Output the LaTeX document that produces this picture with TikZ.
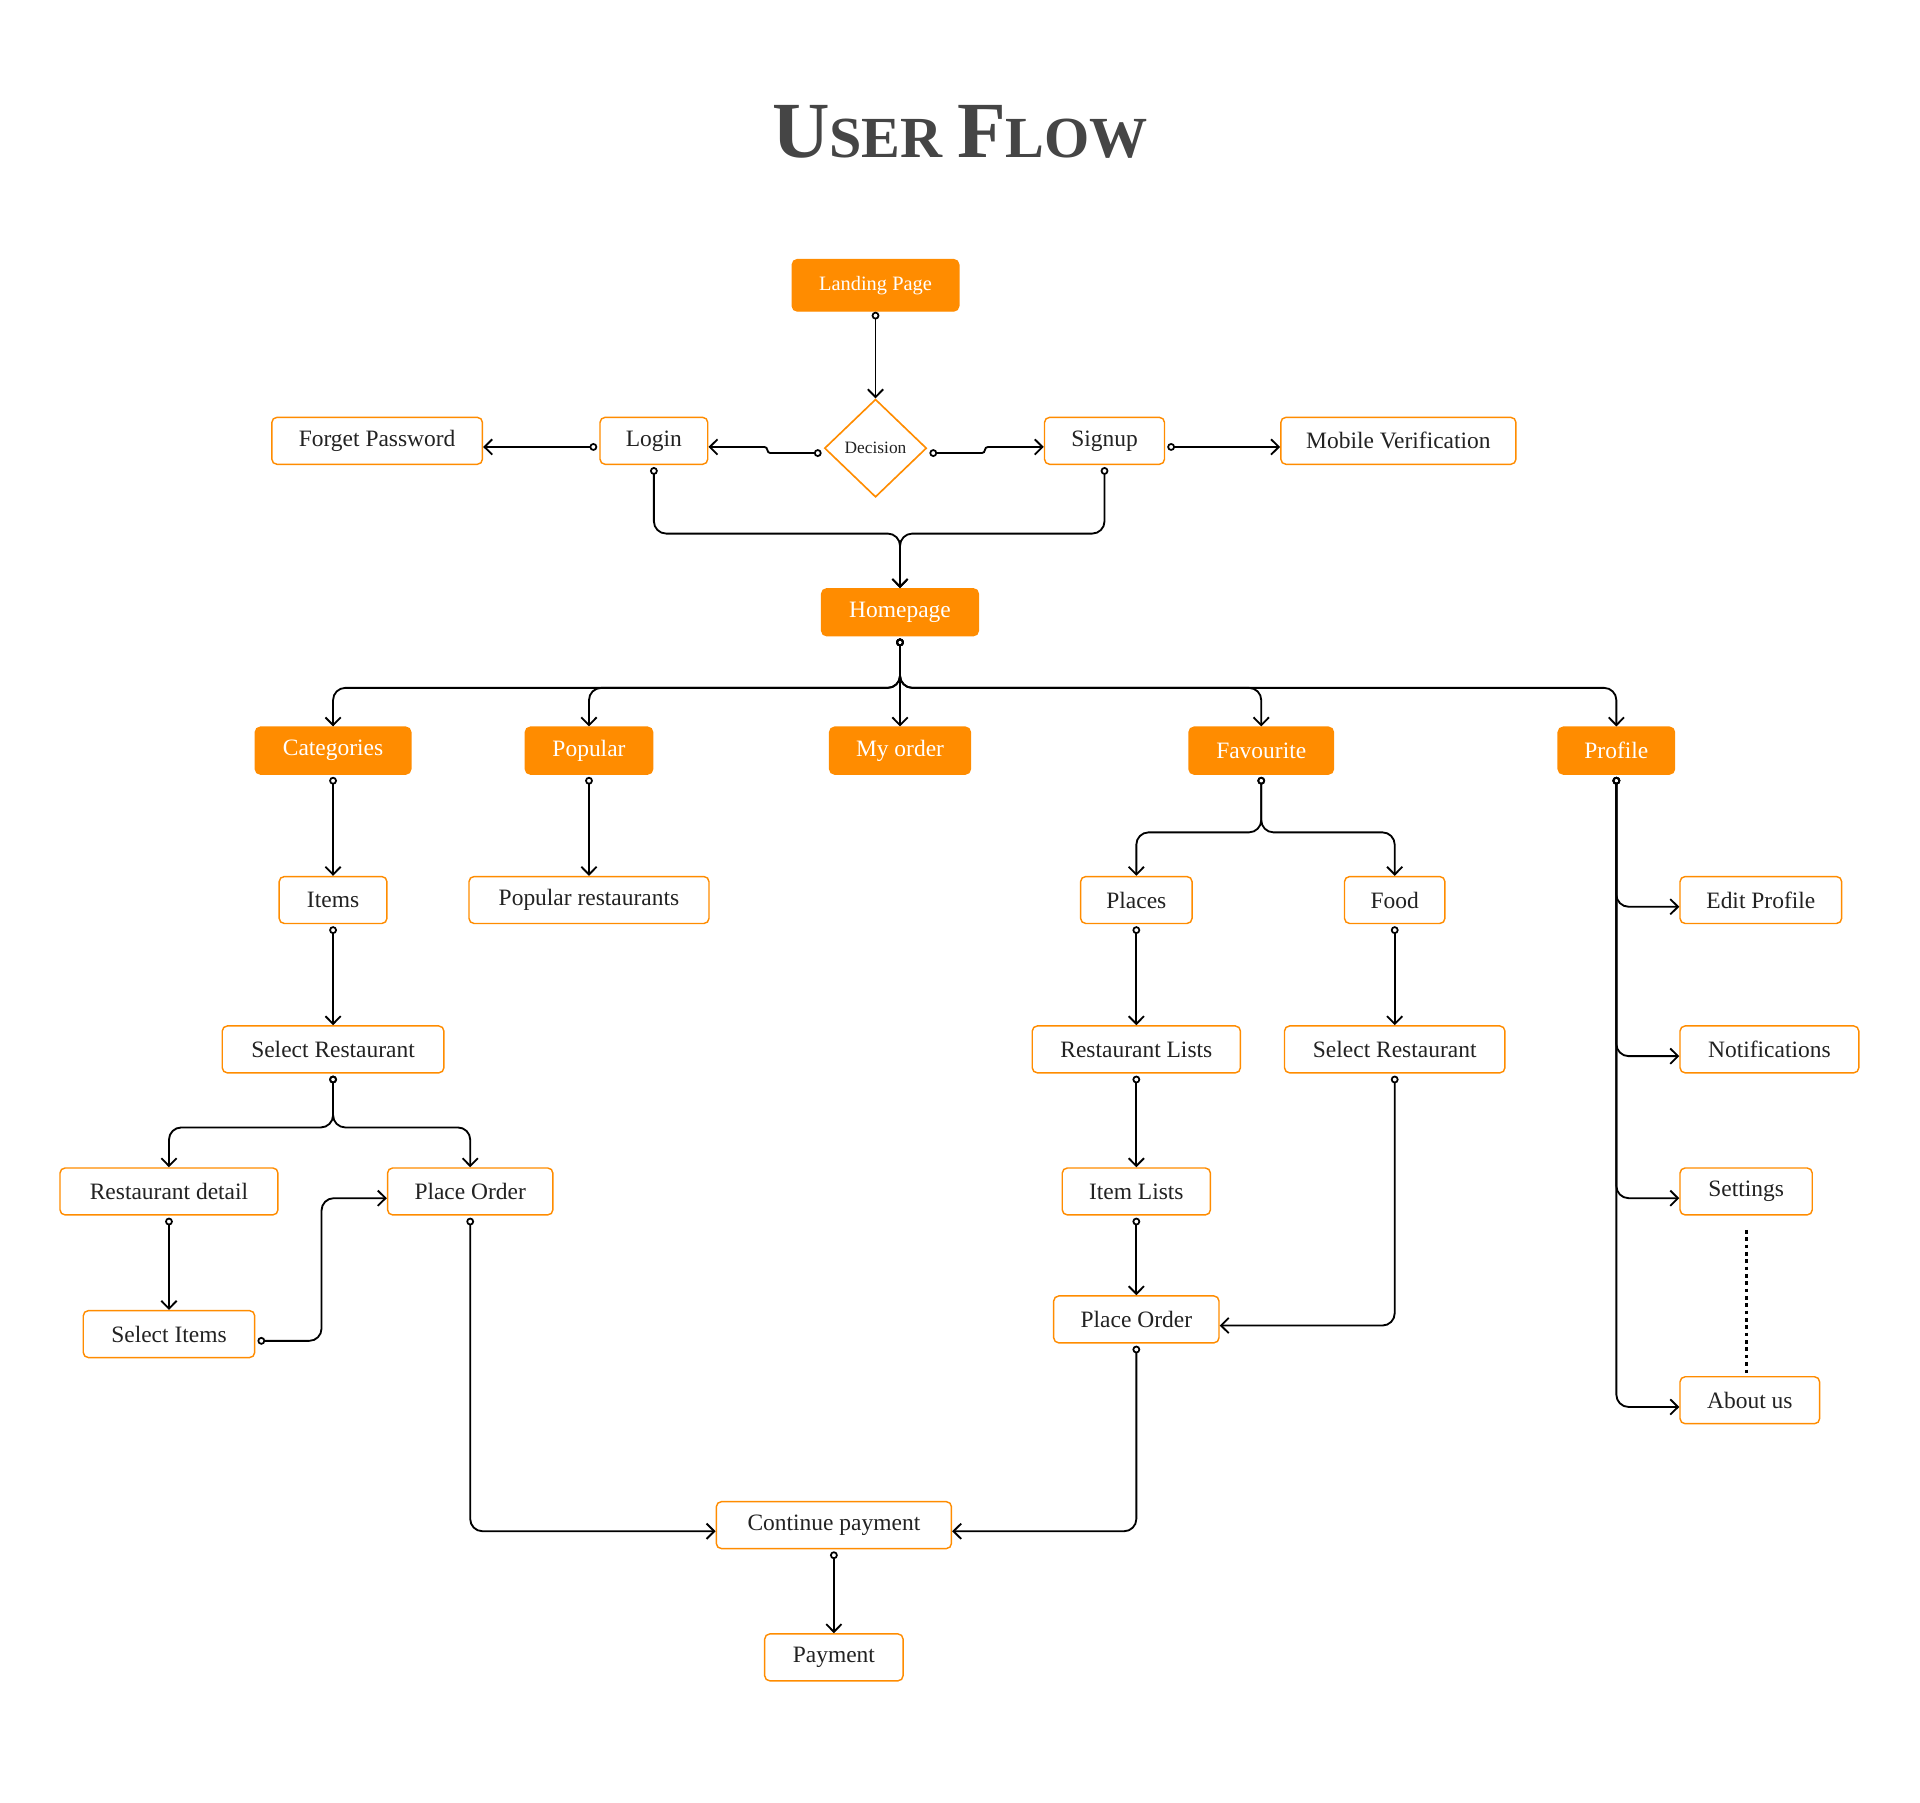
\documentclass[tikz,border=0pt]{standalone}
\usepackage{fontspec}
\setmainfont{Liberation Serif}
\usepackage{xcolor}
\usetikzlibrary{arrows.meta,shapes.geometric}
\definecolor{flowor}{RGB}{255,140,0}
\definecolor{flowink}{RGB}{34,34,34}
\definecolor{titlegray}{RGB}{69,69,69}
\tikzset{
  screen/.style={
    draw=flowor,
    line width=0.7pt,
    rounded corners=2.5pt,
    fill=white,
    text=flowink,
    font=\fontsize{11.5}{13}\selectfont,
    minimum height=23pt,
    inner sep=2pt
  },
  mainscreen/.style={screen, fill=flowor, text=white},
  choice/.style={
    diamond,
    draw=flowor,
    line width=0.8pt,
    fill=white,
    text=flowink,
    font=\fontsize{8.5}{10}\selectfont,
    minimum width=50pt,
    minimum height=48pt,
    inner sep=0pt
  },
  link/.style={{Circle[open,length=3.8pt,width=3.8pt,line width=0.85pt]}-{Straight Barb[length=3.8pt,width=7.5pt,line width=0.9pt]}, line width=0.9pt, rounded corners=6pt, shorten <=1pt},
  etc/.style={line width=1.6pt, dash pattern=on 1.8pt off 1.8pt}
}
\begin{document}
\begin{tikzpicture}[x=0.6pt,y=-0.6pt]
  \useasboundingbox (0,0) rectangle (1568,1472);

  \node[font=\bfseries, text=titlegray] (title) at (784,108) {{\fontsize{39}{44}\selectfont U}{\fontsize{28.5}{32}\selectfont SER}\hspace{7pt}{\fontsize{39}{44}\selectfont F}{\fontsize{28.5}{32}\selectfont LOW}};

  \node[mainscreen, font=\fontsize{10}{12}\selectfont, minimum width=81.6pt, minimum height=25.2pt] (land) at (715,233) {Landing Page};
  \node[choice] (dec) at (715,366) {Decision};
  \node[screen, minimum width=52.8pt] (login) at (534,360) {Login};
  \node[screen, minimum width=103.2pt] (forget) at (308,360) {Forget Password};
  \node[screen, minimum width=58.8pt] (signup) at (902,360) {Signup};
  \node[screen, minimum width=115.2pt] (mobile) at (1142,360) {Mobile Verification};
  \node[mainscreen, minimum width=76.8pt] (home) at (735,500) {Homepage};

  \node[mainscreen, minimum width=76.2pt] (cat) at (272,613) {Categories};
  \node[mainscreen, minimum width=62.4pt] (pop) at (481,613) {Popular};
  \node[mainscreen, minimum width=69pt] (order) at (735,613) {My order};
  \node[mainscreen, minimum width=70.8pt] (fav) at (1030,613) {Favourite};
  \node[mainscreen, minimum width=57pt] (prof) at (1320,613) {Profile};

  \node[screen, minimum width=52.8pt] (items) at (272,735) {Items};
  \node[screen, minimum width=117.6pt] (poprest) at (481,735) {Popular restaurants};
  \node[screen, minimum width=54.6pt] (places) at (928,735) {Places};
  \node[screen, minimum width=49.2pt] (food) at (1139,735) {Food};
  \node[screen, minimum width=79.2pt] (edit) at (1438,735) {Edit Profile};

  \node[screen, minimum width=108.6pt] (selrestA) at (272,857) {Select Restaurant};
  \node[screen, minimum width=102pt] (restlist) at (928,857) {Restaurant Lists};
  \node[screen, minimum width=108pt] (selrestB) at (1139,857) {Select Restaurant};
  \node[screen, minimum width=87.6pt] (notif) at (1445,857) {Notifications};

  \node[screen, minimum width=106.8pt] (restdet) at (138,973) {Restaurant detail};
  \node[screen, minimum width=81pt] (placeA) at (384,973) {Place Order};
  \node[screen, minimum width=72.6pt] (itemlist) at (928,973) {Item Lists};
  \node[screen, minimum width=64.8pt] (sett) at (1426,973) {Settings};

  \node[screen, minimum width=84pt] (selitems) at (138,1089.5) {Select Items};
  \node[screen, minimum width=81pt] (placeB) at (928,1077.5) {Place Order};
  \node[screen, minimum width=68.4pt] (about) at (1429,1143.5) {About us};
  \node[screen, minimum width=115.2pt] (cont) at (681,1245.5) {Continue payment};
  \node[screen, minimum width=67.8pt] (pay) at (681,1353.5) {Payment};

  \draw[link, shorten <=0pt] (land.south) -- (dec.north);
  \draw[link, rounded corners=1.5pt] ([yshift=-2.4pt]dec.west) -- ++(-46,0) |- ([yshift=-3pt]login.east);
  \draw[link, rounded corners=1.5pt] ([yshift=-2.4pt]dec.east) -- ++(47,0) |- ([yshift=-3pt]signup.west);
  \draw[link] ([yshift=-3pt]login.west) -- ([yshift=-3pt]forget.east);
  \draw[link] ([yshift=-3pt]signup.east) -- ([yshift=-3pt]mobile.west);
  \draw[link] (login.south) -- ++(0,56) -| (home.north);
  \draw[link] (signup.south) -- ++(0,56) -| (home.north);

  \foreach \k in {cat,pop,fav,prof}
    \draw[link] (home.south) -- ++(0,42) -| (\k.north);
  \draw[link] (home.south) -- (order.north);

  \draw[link] (cat.south) -- (items.north);
  \draw[link] (pop.south) -- (poprest.north);
  \draw[link] (items.south) -- (selrestA.north);
  \foreach \k in {restdet,placeA}
    \draw[link] (selrestA.south) -- ++(0,44) -| (\k.north);
  \draw[link] (restdet.south) -- (selitems.north);
  \draw[link] ([yshift=-3.3pt]selitems.east) -- ++(54,0) |- ([yshift=-3.3pt]placeA.west);
  \draw[link] (placeA.south) |- ([yshift=-3pt]cont.west);

  \foreach \k in {places,food}
    \draw[link] (fav.south) -- ++(0,47) -| (\k.north);
  \draw[link] (places.south) -- (restlist.north);
  \draw[link] (restlist.south) -- (itemlist.north);
  \draw[link] (itemlist.south) -- (placeB.north);
  \draw[link] (food.south) -- (selrestB.north);
  \draw[link] (selrestB.south) |- ([yshift=-3pt]placeB.east);
  \draw[link] (placeB.south) |- ([yshift=-3pt]cont.east);
  \draw[link] (cont.south) -- (pay.north);

  \foreach \k in {edit,notif,sett,about}
    \draw[link] (prof.south) |- ([yshift=-3.3pt]\k.west);
  \draw[etc] ([yshift=-7pt]sett.south) -- (sett.south |- about.north);
\end{tikzpicture}
\end{document}
